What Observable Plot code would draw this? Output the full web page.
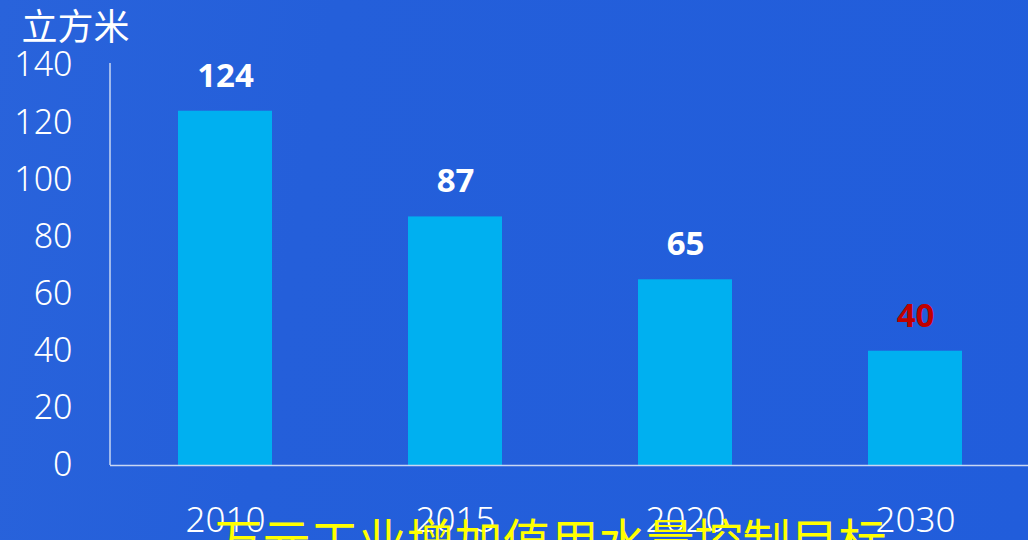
<!DOCTYPE html>
<html>
<head>
<meta charset="utf-8">
<script src="https://cdn.jsdelivr.net/npm/d3@7"></script>
<script src="https://cdn.jsdelivr.net/npm/@observablehq/plot@0.6"></script>
<style>
  html, body { margin: 0; padding: 0; width: 1028px; height: 540px; overflow: hidden; }
  body { background: linear-gradient(100deg, #2963DB 0%, #245FDA 30%, #215DDB 100%); }
  #chart svg { display: block; background: transparent; }
</style>
</head>
<body>
<div id="chart"></div>
<script>
const years = ["2010", "2015", "2020", "2030"];
const values = [124, 87, 65, 40];
const yTicks = [0, 20, 40, 60, 80, 100, 120, 140];
const unitLabel = "立方米";
const title = "万元工业增加值用水量控制目标";

const data = years.map((year, i) => ({year, value: values[i]}));
const sansFont = "'Noto Sans', 'Noto Sans CJK SC', sans-serif";

const leftLine = (index, scales, values, dims) => {
  const g = document.createElementNS("http://www.w3.org/2000/svg", "line");
  g.setAttribute("x1", dims.marginLeft);
  g.setAttribute("x2", dims.marginLeft);
  g.setAttribute("y1", scales.y(140) - 2);
  g.setAttribute("y2", scales.y(0));
  g.setAttribute("stroke", "#c9d7f3");
  g.setAttribute("stroke-width", 1.5);
  return g;
};

const chart = Plot.plot({
  width: 1028,
  height: 540,
  marginLeft: 110,
  marginRight: 0,
  marginTop: 65,
  marginBottom: 75,
  style: {background: "transparent", color: "white", fontFamily: sansFont},
  x: {domain: years, range: [110, 1031], paddingInner: 0.59, paddingOuter: 0.295, axis: null},
  y: {domain: [0, 140], axis: null},
  marks: [
    Plot.barY(data, {x: "year", y: "value", fill: "#00B0F0"}),
    Plot.ruleY([0], {stroke: "#c9d7f3", strokeWidth: 1.5}),
    leftLine,
    Plot.axisY(yTicks, {tickSize: 0, tickPadding: 38, fontSize: 34, fill: "white", fontFamily: sansFont, fontWeight: 300, label: null}),
    Plot.axisX(years, {tickSize: 0, tickPadding: 42, fontSize: 35, fill: "white", fontFamily: sansFont, fontWeight: 300, label: null}),
    Plot.text(data, {x: "year", y: "value", text: d => String(d.value), dy: -35, fontSize: 33, fontWeight: "bold",
      fontFamily: sansFont, fill: d => d.year === "2030" ? "#C00000" : "#ffffff"}),
    Plot.text([unitLabel], {frameAnchor: "top-left", dx: -35, dy: -51, textAnchor: "middle", fontSize: 36,
      fill: "white", fontFamily: "'DejaVu Serif', 'Noto Sans CJK SC', serif"}),
    Plot.text([title], {frameAnchor: "bottom", dx: -19, dy: 59, lineAnchor: "top", fontSize: 48,
      fill: "#FFFF00", fontFamily: "'Noto Sans CJK SC', sans-serif"})
  ]
});
document.getElementById("chart").appendChild(chart);
</script>
</body>
</html>
